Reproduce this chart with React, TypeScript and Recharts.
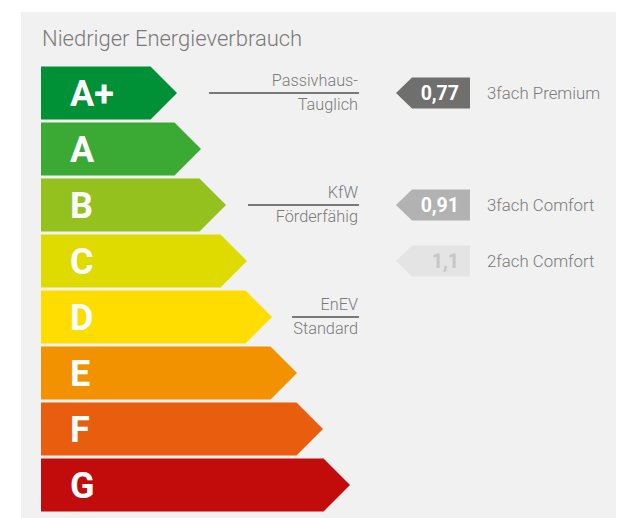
import { Bar, BarChart, XAxis, YAxis } from "recharts";

// energy classes and the drawn length of each arrow (in px units of the x scale)
const classes = ["A+", "A", "B", "C", "D", "E", "F", "G"];
const classLength = [136, 160, 185, 206, 231, 256, 282, 309];

// building standards shown beside a class
const standardClass = ["A+", "B", "D"];
const standardTop = ["Passivhaus-", "KfW", "EnEV"];
const standardBottom = ["Tauglich", "Förderfähig", "Standard"];

// window U-values and product names
const windowClass = ["A+", "B", "C"];
const windowU = [0.77, 0.91, 1.1];
const windowName = ["3fach Premium", "3fach Comfort", "2fach Comfort"];

const classColors = ["#009036", "#3aaa35", "#95c11f", "#dfdb00", "#ffdd00", "#f39200", "#e95d0f", "#c20b0b"];
const markerFill = ["#6f6f6e", "#b2b2b2", "#e4e4e4"];
const markerText = ["#ffffff", "#ffffff", "#c6c6c6"];
const ruleWidth: Record<string, number> = { "A+": 149, B: 110, D: 66 };

const FONT = "Roboto, 'Noto Sans', sans-serif";
const GRAY = "#7a7a7a";

const data = classes.map((cls, i) => {
  const s = standardClass.indexOf(cls);
  const w = windowClass.indexOf(cls);
  return {
    cls,
    length: classLength[i],
    color: classColors[i],
    top: s >= 0 ? standardTop[s] : null,
    bottom: s >= 0 ? standardBottom[s] : null,
    u: w >= 0 ? windowU[w] : null,
    product: w >= 0 ? windowName[w] : null,
    mFill: w >= 0 ? markerFill[w] : null,
    mText: w >= 0 ? markerText[w] : null,
  };
});

const fmt = (v: number) => v.toLocaleString("de-DE");

function ArrowShape(props: any) {
  const { x, y, width, height, payload } = props;
  const tip = height / 2;
  const cy = y + height / 2;
  const body = `${x},${y} ${x + width - tip},${y} ${x + width},${cy} ${x + width - tip},${y + height} ${x},${y + height}`;
  const textRight = 358;
  const mh = 31;
  const mLeft = 396;
  const mRect = 412;
  const mRight = 470;
  return (
    <g>
      <polygon points={body} fill={payload.color} />
      <text x={x + 29} y={cy + 12.5} fill="#fff" fontFamily={FONT} fontWeight={700} fontSize={36}>
        {payload.cls}
      </text>
      {payload.top && (
        <g>
          <line x1={textRight - ruleWidth[payload.cls]} x2={textRight + 1} y1={cy} y2={cy} stroke={GRAY} strokeWidth={2} />
          <text x={textRight} y={cy - 7} textAnchor="end" fill={GRAY} fontFamily={FONT} fontWeight={300} fontSize={16.3}>
            {payload.top}
          </text>
          <text x={textRight} y={cy + 16.5} textAnchor="end" fill={GRAY} fontFamily={FONT} fontWeight={300} fontSize={16.3}>
            {payload.bottom}
          </text>
        </g>
      )}
      {payload.u != null && (
        <g>
          <polygon
            points={`${mLeft},${cy} ${mRect},${cy - mh / 2} ${mRight},${cy - mh / 2} ${mRight},${cy + mh / 2} ${mRect},${cy + mh / 2}`}
            fill={payload.mFill}
          />
          <text x={459} y={cy + 7} textAnchor="end" fill={payload.mText} fontFamily={FONT} fontWeight={700} fontSize={19.5}>
            {fmt(payload.u)}
          </text>
          <text x={487} y={cy + 6} fill={GRAY} fontFamily={FONT} fontWeight={300} fontSize={16.8}>
            {payload.product}
          </text>
        </g>
      )}
    </g>
  );
}

export default function App() {
  return (
    <div style={{ position: "absolute", left: 0, top: 0, width: 634, height: 518, background: "#fff" }}>
      <div style={{ position: "absolute", left: 21, top: 12, width: 595, height: 506, background: "#f1f1f1" }} />
      <div
        style={{
          position: "absolute",
          left: 42,
          top: 26,
          fontFamily: FONT,
          fontWeight: 300,
          fontSize: 22,
          lineHeight: "26px",
          color: GRAY,
        }}
      >
        Niedriger Energieverbrauch
      </div>
      <div style={{ position: "absolute", left: 0, top: 0 }}>
        <BarChart
          width={634}
          height={518}
          data={data}
          layout="vertical"
          margin={{ top: 64.5, right: 19, bottom: 5.5, left: 41 }}
        >
          <XAxis type="number" domain={[0, 574]} hide />
          <YAxis type="category" dataKey="cls" hide />
          <Bar dataKey="length" barSize={53} shape={ArrowShape} isAnimationActive={false} />
        </BarChart>
      </div>
    </div>
  );
}
